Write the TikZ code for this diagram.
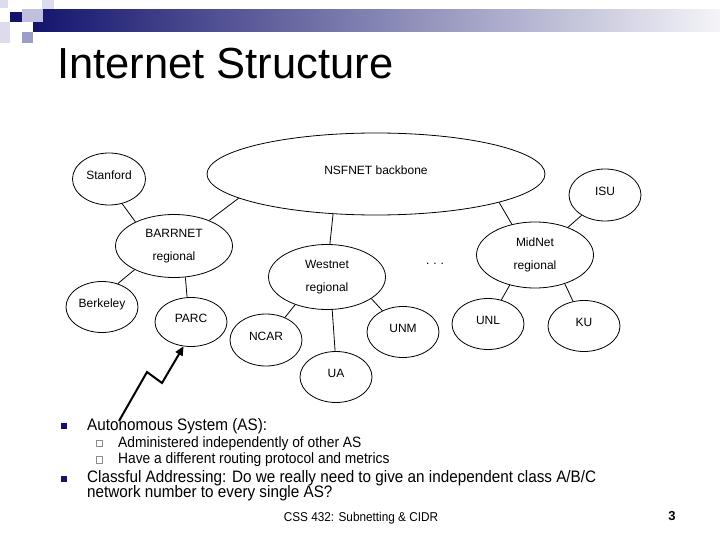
\documentclass[tikz,border=0pt]{standalone}
\usepackage{fontspec}
\setmainfont{Liberation Sans}
\newfontfamily\narrowsf[FakeStretch=0.92]{Liberation Sans}
\usepackage{xcolor}
\usepackage{tikz}
\usetikzlibrary{arrows.meta,positioning,shapes.geometric}
\definecolor{slideNavy}{HTML}{14146E}
\definecolor{barPale}{HTML}{F4F4F8}
\definecolor{squarePale}{HTML}{DCDCEC}
\definecolor{squareLight}{HTML}{C0C0DE}
\definecolor{squareMid}{HTML}{9C9CC8}
\definecolor{boxGray}{HTML}{8C8C8C}

\begin{document}
\begin{tikzpicture}[x=1pt,y=-1pt,
    net/.style={ellipse, draw, line width=0.8pt, inner sep=0pt, font=\fontsize{12}{14}\selectfont, align=center},
    site/.style={net, minimum width=72pt, minimum height=51pt, text height=9pt, text depth=8pt},
    link/.style={line width=0.8pt},
    bulletsq/.style={rectangle, fill=slideNavy, inner sep=0pt, minimum size=6pt},
    subsq/.style={rectangle, draw=boxGray, line width=0.6pt, inner sep=0pt, minimum size=6.5pt},
    bodytext/.style={anchor=base west, inner sep=0pt, font=\narrowsf\fontsize{16.6}{18}\selectfont},
    subtext/.style={anchor=base west, inner sep=0pt, font=\narrowsf\fontsize{15}{17}\selectfont}]
  \useasboundingbox (0,0) rectangle (720,540);
  \fill[white] (0,0) rectangle (720,540);
  \shade[left color=slideNavy, right color=barPale] (33,10) rectangle (720,32);
  \fill[squarePale] (0,0) rectangle (8,8);
  \fill[squarePale] (42,0) rectangle (54,9);
  \fill[squareLight] (22,9) rectangle (43,22);
  \fill[slideNavy] (10,12) rectangle (22,22);
  \fill[squarePale] (0,22) rectangle (10,43);
  \fill[squareMid] (22,32) rectangle (33,43);
  \node[anchor=base west, inner sep=0pt, font=\fontsize{43.5}{50}\selectfont] (title) at (57,79) {Internet Structure};

  \node[net, minimum width=338pt, minimum height=82pt, text height=9pt, text depth=8pt] (nsfnet) at (376,174) {NSFNET backbone};
  \node[site, minimum width=73pt, minimum height=52pt] (stanford) at (109,179) {Stanford};
  \node[site, minimum height=52pt] (isu) at (605,195) {ISU};
  \node[net, minimum width=117pt, minimum height=63pt] (barrnet) at (174,246) {BARRNET\\[9pt]regional};
  \node[net, minimum width=117pt, minimum height=65pt] (westnet) at (327,277) {Westnet\\[9pt]regional};
  \node[net, minimum width=117pt, minimum height=66pt] (midnet) at (535,255) {MidNet\\[9pt]regional};
  \node[site] (berkeley) at (102,307) {Berkeley};
  \node[site, minimum height=49pt] (parc) at (191,322) {PARC};
  \node[site, minimum height=52pt] (ncar) at (266,340) {NCAR};
  \node[site] (ua) at (336,377) {UA};
  \node[site] (unm) at (403,332) {UNM};
  \node[site] (unl) at (488,324) {UNL};
  \node[site] (ku) at (584,326) {KU};
  \node[anchor=base, inner sep=0pt, font=\fontsize{12}{14}\selectfont] (dots) at (435,264) {.\hspace{4pt}.\hspace{4pt}.};

  \foreach \a/\b in {stanford.-62/barrnet.148, barrnet.36/nsfnet.190, nsfnet.223/westnet.85,
      nsfnet.-13/midnet.127, isu.221/midnet.40, barrnet.211/berkeley.56, barrnet.-70/parc.99,
      westnet.221/ncar.50, westnet.-81/ua.92, westnet.-26/unm.134, midnet.230/unl.61, midnet.-44/ku.114}
    \draw[link] (\a) -- (\b);

  \coordinate (zigA) at (119,421);
  \coordinate (zigB) at (147,372);
  \coordinate (zigC) at (162,383);
  \draw[line width=2pt, -{Triangle[length=9pt,width=8pt]}] (zigA) -- (zigB) -- (zigC) -- (parc.-107);

  \node[bulletsq] (b1) at (63.5,426) {};
  \node[bodytext] (asText) at (87,430) {Autonomous System (AS):};
  \node[subsq] (s1) at (99.5,443.5) {};
  \node[subtext] (adminText) at (118,447) {Administered independently of other AS};
  \node[subsq] (s2) at (99.5,460) {};
  \node[subtext] (routeText) at (118,463) {Have a different routing protocol and metrics};
  \node[bulletsq] (b2) at (63.5,479) {};
  \node[bodytext] (classText) at (87,482.5) {Classful Addressing: Do we really need to give an independent class A/B/C};
  \node[bodytext] (classText2) at (87,497.5) {network number to every single AS?};
  \node[font=\narrowsf\fontsize{12.8}{15}\selectfont] (footer) at (361,518) {CSS 432: Subnetting \& CIDR};
  \node[font=\bfseries\fontsize{13}{16}\selectfont] (pageNo) at (672,516) {3};
\end{tikzpicture}
\end{document}
